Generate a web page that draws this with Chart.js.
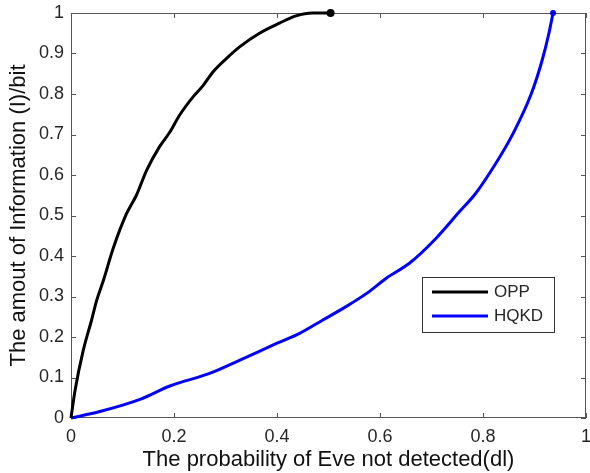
<!DOCTYPE html>
<html>
<head>
<meta charset="utf-8">
<script src="https://cdn.jsdelivr.net/npm/chart.js@4/dist/chart.umd.min.js"></script>
<style>
  html, body { margin: 0; padding: 0; background: #fff; }
</style>
</head>
<body>
<canvas id="infoChart" width="590" height="473"></canvas>
<script>
/* ---------- DATA ---------- */

const oppX = [0, 0.008, 0.024, 0.04, 0.05, 0.063, 0.082, 0.108, 0.127, 0.147, 0.172, 0.192,
  0.211, 0.237, 0.256, 0.276, 0.302, 0.328, 0.366, 0.405, 0.437, 0.469, 0.504];
const oppY = [0, 0.069, 0.168, 0.242, 0.291, 0.34, 0.419, 0.505, 0.550, 0.612, 0.670, 0.706,
  0.748, 0.793, 0.820, 0.855, 0.888, 0.917, 0.950, 0.975, 0.993, 1.0, 1.0];

const hqkdX = [0, 0.056, 0.134, 0.192, 0.269, 0.328, 0.399, 0.444, 0.489, 0.534, 0.579,
  0.612, 0.657, 0.709, 0.754, 0.786, 0.825, 0.857, 0.893, 0.915, 0.928, 0.936];
const hqkdY = [0, 0.016, 0.046, 0.079, 0.110, 0.143, 0.184, 0.209, 0.242, 0.275, 0.312,
  0.345, 0.382, 0.444, 0.509, 0.555, 0.629, 0.699, 0.798, 0.884, 0.950, 1.0];

const xTicks = [0, 0.2, 0.4, 0.6, 0.8, 1];
const xTickLabels = ["0", "0.2", "0.4", "0.6", "0.8", "1"];
const yTicks = [0, 0.1, 0.2, 0.3, 0.4, 0.5, 0.6, 0.7, 0.8, 0.9, 1];
const yTickLabels = ["0", "0.1", "0.2", "0.3", "0.4", "0.5", "0.6", "0.7", "0.8", "0.9", "1"];

const seriesNames = ["OPP", "HQKD"];
const seriesColors = ["#000000", "#0000ff"];

/* ---------- HELPERS ---------- */

const FONT = "'Liberation Sans', Arial, sans-serif";
const AXIS_COLOR = "#555555";

function toPoints(xs, ys) {
  return xs.map((x, i) => ({ x, y: ys[i] }));
}

// only the last point carries a marker, like the MATLAB end dot
function endMarker(xs, r) {
  return xs.map((_, i) => (i === xs.length - 1 ? r : 0));
}

function setTicks(values) {
  return function (scale) {
    scale.ticks = values.map(v => ({ value: v }));
  };
}

/* ---------- PLUGINS ---------- */

// box round the plot with inward ticks on all four sides
const boxPlugin = {
  id: "boxPlugin",
  beforeDatasetsDraw(chart) {
    const { ctx, chartArea: a, scales } = chart;
    const len = 5;
    ctx.save();
    ctx.strokeStyle = AXIS_COLOR;
    ctx.lineWidth = 1;
    ctx.strokeRect(a.left + 0.5, a.top + 0.5, a.right - a.left - 1, a.bottom - a.top - 1);
    ctx.beginPath();
    xTicks.forEach(v => {
      const px = Math.round(scales.x.getPixelForValue(v)) + 0.5;
      ctx.moveTo(px, a.bottom); ctx.lineTo(px, a.bottom - len);
      ctx.moveTo(px, a.top); ctx.lineTo(px, a.top + len);
    });
    yTicks.forEach(v => {
      const py = Math.round(scales.y.getPixelForValue(v)) + 0.5;
      ctx.moveTo(a.left, py); ctx.lineTo(a.left + len, py);
      ctx.moveTo(a.right, py); ctx.lineTo(a.right - len, py);
    });
    ctx.stroke();
    ctx.restore();
  }
};

// boxed legend inside the lower right of the plot
const legendBox = {
  id: "legendBox",
  afterDatasetsDraw(chart) {
    const { ctx, chartArea: a } = chart;
    const w = 132, h = 55;
    const x0 = a.right - 32 - w, y0 = a.bottom - 86 - h;
    ctx.save();
    ctx.fillStyle = "#fff";
    ctx.fillRect(x0, y0, w, h);
    ctx.strokeStyle = "#333";
    ctx.lineWidth = 1;
    ctx.strokeRect(x0 + 0.5, y0 + 0.5, w, h);
    ctx.font = "17px " + FONT;
    ctx.textBaseline = "middle";
    chart.data.datasets.forEach((ds, i) => {
      const y = y0 + 15 + i * 24;
      ctx.strokeStyle = ds.borderColor;
      ctx.lineWidth = 3;
      ctx.beginPath();
      ctx.moveTo(x0 + 10, y);
      ctx.lineTo(x0 + 66, y);
      ctx.stroke();
      ctx.fillStyle = "#262626";
      ctx.fillText(ds.label, x0 + 72, y);
    });
    ctx.restore();
  }
};

/* ---------- CHART ---------- */

const ctx = document.getElementById("infoChart").getContext("2d");

new Chart(ctx, {
  type: "scatter",
  data: {
    datasets: [
      {
        label: seriesNames[0],
        data: toPoints(oppX, oppY),
        showLine: true,
        borderColor: seriesColors[0],
        backgroundColor: seriesColors[0],
        borderWidth: 3,
        cubicInterpolationMode: "monotone",
        pointRadius: endMarker(oppX, 4),
        pointBorderWidth: 0,
        clip: false
      },
      {
        label: seriesNames[1],
        data: toPoints(hqkdX, hqkdY),
        showLine: true,
        borderColor: seriesColors[1],
        backgroundColor: seriesColors[1],
        borderWidth: 3,
        cubicInterpolationMode: "monotone",
        pointRadius: endMarker(hqkdX, 3),
        pointBorderWidth: 0,
        clip: false
      }
    ]
  },
  options: {
    responsive: false,
    animation: false,
    layout: { padding: { top: 13, right: 3, left: 0, bottom: 0 } },
    plugins: {
      legend: { display: false },
      tooltip: { enabled: false }
    },
    scales: {
      x: {
        type: "linear",
        min: 0,
        max: 1,
        afterBuildTicks: setTicks(xTicks),
        afterFit(scale) {
          scale.height = 55;
          scale.paddingLeft = 0;
          scale.paddingRight = 0;
        },
        grid: { display: false, drawTicks: false },
        border: { display: false },
        ticks: {
          padding: 8,
          color: "#262626",
          font: { family: FONT, size: 18 },
          callback: (v, i) => xTickLabels[i]
        },
        title: {
          display: true,
          text: "The probability of Eve not detected(dl)",
          color: "#111",
          font: { family: FONT, size: 22 },
          padding: { top: 0, bottom: 0 }
        }
      },
      y: {
        type: "linear",
        min: 0,
        max: 1,
        afterBuildTicks: setTicks(yTicks),
        afterFit(scale) {
          scale.width = 71;
          scale.paddingTop = 0;
          scale.paddingBottom = 0;
        },
        grid: { display: false, drawTicks: false },
        border: { display: false },
        ticks: {
          padding: 7,
          color: "#262626",
          font: { family: FONT, size: 18 },
          callback: (v, i) => yTickLabels[i]
        },
        title: {
          display: true,
          text: "The amout of Information (I)/bit",
          color: "#111",
          font: { family: FONT, size: 22 },
          padding: { top: 6, bottom: 0 }
        }
      }
    }
  },
  plugins: [boxPlugin, legendBox]
});
</script>
</body>
</html>
